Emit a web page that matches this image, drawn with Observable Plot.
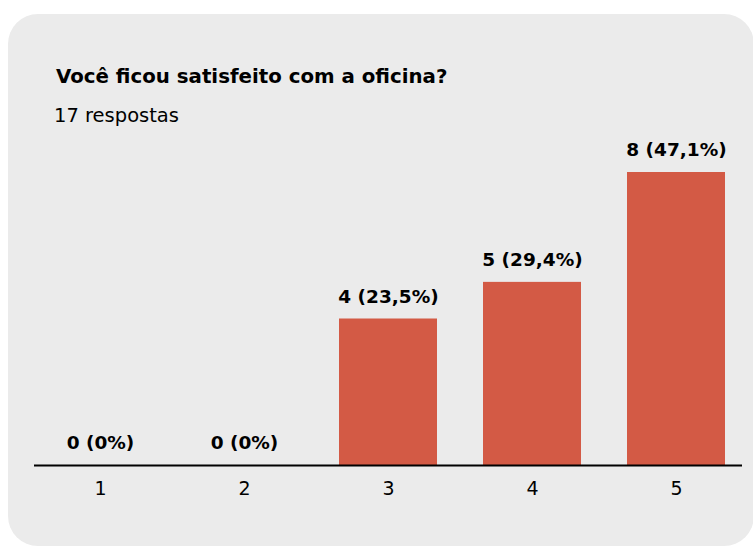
<!DOCTYPE html>
<html>
<head>
<meta charset="utf-8">
<script src="https://cdn.jsdelivr.net/npm/d3@7"></script>
<script src="https://cdn.jsdelivr.net/npm/@observablehq/plot@0.6"></script>
<style>
  html, body { margin: 0; padding: 0; background: #ffffff; width: 753px; height: 546px; overflow: hidden; }
  #card { position: absolute; left: 8px; top: 14px; width: 746px; height: 532px; background: #ebebeb; border-radius: 30px; }
  .t { position: absolute; font-family: "DejaVu Sans", sans-serif; color: #000; white-space: nowrap; line-height: 1; }
  #title { left: 56px; top: 67px; font-size: 19.8px; font-weight: 700; }
  #subtitle { left: 54px; top: 106px; font-size: 19.5px; font-weight: 400; }
  #chart { position: absolute; left: 0; top: 130px; }
</style>
</head>
<body>
<div id="card"></div>
<div id="title" class="t">Você ficou satisfeito com a oficina?</div>
<div id="subtitle" class="t">17 respostas</div>
<div id="chart"></div>
<script>
const categories = ["1", "2", "3", "4", "5"];
const counts = [0, 0, 4, 5, 8];
const valueLabels = ["0 (0%)", "0 (0%)", "4 (23,5%)", "5 (29,4%)", "8 (47,1%)"];

const data = categories.map((c, i) => ({category: c, count: counts[i], label: valueLabels[i]}));

const chart = Plot.plot({
  width: 753,
  height: 416,
  marginTop: 42,
  marginBottom: 81,
  marginLeft: 34,
  marginRight: 11,
  style: {fontFamily: "'DejaVu Sans', sans-serif", background: "transparent", color: "#000"},
  x: {domain: categories, paddingInner: 0.317, paddingOuter: 0.1, label: null},
  y: {domain: [0, 8], axis: null},
  marks: [
    Plot.barY(data, {x: "category", y: "count", fill: "#d35a45"}),
    Plot.ruleY([0], {stroke: "#000", strokeWidth: 2}),
    Plot.text(data, {x: "category", y: "count", text: "label", dy: -22, fontSize: 18.5, fontWeight: 700, fill: "#000"}),
    Plot.axisX({tickSize: 0, tickPadding: 16, fontSize: 19, fill: "#000", label: null})
  ]
});
document.getElementById("chart").appendChild(chart);
</script>
</body>
</html>
